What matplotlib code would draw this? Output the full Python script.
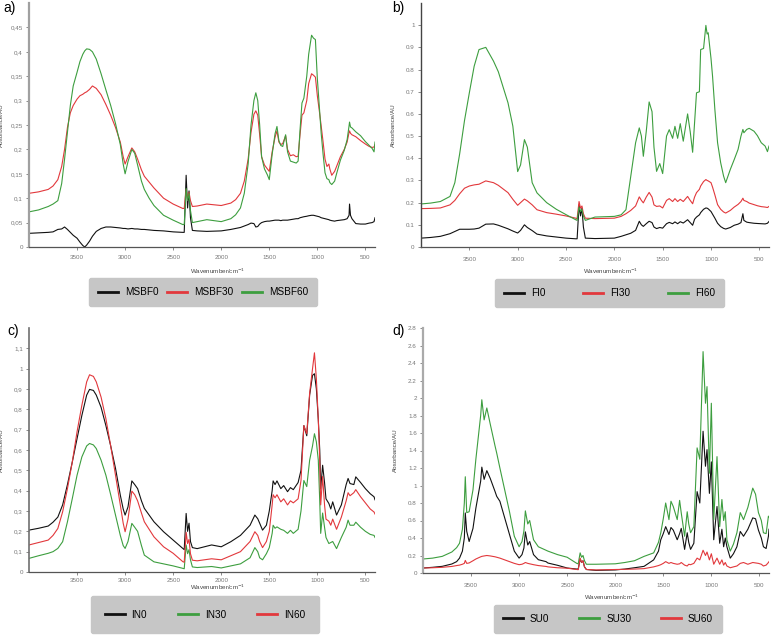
import matplotlib
matplotlib.use("Agg")
import matplotlib.pyplot as plt
import numpy as np

plt.rcParams['font.family'] = ['Liberation Sans', 'DejaVu Sans']

BLACK = '#111111'
RED = '#e2383c'
GREEN = '#3d9e3f'

# ---- panel a) MSBF ----
wn_a = [4000, 3900, 3800, 3750, 3700, 3660, 3630, 3600, 3570, 3540, 3500, 3470, 3440, 3420,
        3400, 3370, 3340, 3300, 3250, 3200, 3150, 3100, 3050, 3020, 3000, 2970, 2930, 2900,
        2870, 2830, 2800, 2750, 2700, 2600, 2500, 2400, 2385, 2365, 2350, 2335, 2320, 2300,
        2250, 2150, 2000, 1900, 1850, 1800, 1760, 1720, 1690, 1660, 1640, 1620, 1600, 1580,
        1550, 1520, 1500, 1470, 1440, 1420, 1400, 1380, 1360, 1330, 1310, 1280, 1250, 1220,
        1200, 1180, 1160, 1140, 1110, 1090, 1060, 1040, 1020, 1000, 980, 960, 940, 920, 900,
        880, 870, 850, 820, 800, 760, 720, 690, 670, 665, 655, 640, 600, 550, 500, 460, 430,
        410, 400]
msbf0 = [0.028, 0.029, 0.030, 0.031, 0.036, 0.037, 0.041, 0.036, 0.030, 0.024, 0.018, 0.010,
         0.003, 0.000, 0.004, 0.012, 0.022, 0.032, 0.038, 0.041, 0.041, 0.040, 0.039, 0.038,
         0.038, 0.037, 0.038, 0.037, 0.037, 0.036, 0.036, 0.035, 0.034, 0.033, 0.031, 0.030,
         0.030, 0.147, 0.080, 0.115, 0.060, 0.034, 0.033, 0.032, 0.033, 0.036, 0.038, 0.040,
         0.043, 0.046, 0.049, 0.048, 0.041, 0.042, 0.047, 0.050, 0.052, 0.053, 0.053, 0.054,
         0.055, 0.055, 0.055, 0.054, 0.055, 0.055, 0.055, 0.056, 0.057, 0.058, 0.058, 0.060,
         0.061, 0.062, 0.063, 0.064, 0.065, 0.065, 0.064, 0.063, 0.062, 0.060, 0.059, 0.058,
         0.057, 0.056, 0.055, 0.054, 0.053, 0.054, 0.055, 0.056, 0.058, 0.065, 0.088, 0.065,
         0.058, 0.048, 0.047, 0.047, 0.049, 0.050, 0.052, 0.060]
msbf30 = [0.110, 0.113, 0.118, 0.125, 0.138, 0.165, 0.200, 0.245, 0.275, 0.290, 0.303, 0.310,
          0.313, 0.316, 0.318, 0.323, 0.330, 0.325, 0.312, 0.292, 0.270, 0.245, 0.215, 0.185,
          0.170, 0.185, 0.203, 0.195, 0.180, 0.158, 0.145, 0.133, 0.121, 0.100, 0.088, 0.079,
          0.079, 0.118, 0.100, 0.112, 0.095, 0.083, 0.084, 0.088, 0.085, 0.090, 0.097, 0.110,
          0.135, 0.180, 0.235, 0.272, 0.279, 0.270, 0.230, 0.185, 0.168, 0.160, 0.155, 0.195,
          0.225, 0.238, 0.215, 0.210, 0.212, 0.228, 0.200, 0.187, 0.189, 0.185, 0.186, 0.230,
          0.270, 0.275, 0.300, 0.335, 0.355, 0.352, 0.348, 0.310, 0.280, 0.248, 0.215, 0.180,
          0.165, 0.170, 0.160, 0.147, 0.155, 0.165, 0.185, 0.200, 0.215, 0.235, 0.238, 0.233,
          0.230, 0.226, 0.218, 0.211, 0.206, 0.204, 0.205, 0.210]
msbf60 = [0.072, 0.076, 0.083, 0.088, 0.095, 0.130, 0.180, 0.235, 0.290, 0.330, 0.358, 0.380,
          0.395, 0.402, 0.406, 0.405, 0.400, 0.385, 0.355, 0.322, 0.290, 0.253, 0.210, 0.170,
          0.150, 0.175, 0.200, 0.192, 0.168, 0.135, 0.118, 0.100, 0.085, 0.065, 0.055, 0.046,
          0.046, 0.120, 0.095, 0.110, 0.075, 0.050, 0.052, 0.056, 0.052, 0.058, 0.066, 0.080,
          0.110, 0.170, 0.250, 0.300, 0.316, 0.300, 0.250, 0.185, 0.160, 0.148, 0.138, 0.190,
          0.232, 0.247, 0.218, 0.208, 0.206, 0.230, 0.195, 0.176, 0.174, 0.172, 0.176, 0.240,
          0.295, 0.305, 0.350, 0.395, 0.434, 0.428, 0.425, 0.345, 0.290, 0.233, 0.190, 0.152,
          0.140, 0.138, 0.132, 0.128, 0.135, 0.150, 0.178, 0.198, 0.220, 0.248, 0.256, 0.246,
          0.244, 0.236, 0.228, 0.216, 0.208, 0.202, 0.195, 0.215]

# ---- panel b) FI ----
wn_b = [4000, 3900, 3800, 3700, 3650, 3600, 3550, 3500, 3450, 3400, 3330, 3250, 3200, 3100,
        3050, 3000, 2970, 2930, 2900, 2850, 2800, 2700, 2600, 2500, 2400, 2385, 2365, 2350,
        2335, 2320, 2300, 2200, 2000, 1930, 1880, 1830, 1780, 1742, 1720, 1700, 1670, 1640,
        1610, 1590, 1563, 1530, 1500, 1460, 1432, 1397, 1373, 1345, 1318, 1287, 1242, 1215,
        1190, 1170, 1150, 1120, 1107, 1077, 1053, 1040, 1029, 1000, 984, 960, 932, 900, 870,
        848, 800, 760, 720, 690, 670, 660, 630, 605, 555, 520, 480, 440, 416, 400]
fi0 = [0.040, 0.043, 0.048, 0.060, 0.070, 0.080, 0.080, 0.080, 0.081, 0.085, 0.103, 0.104,
       0.098, 0.082, 0.072, 0.063, 0.075, 0.100, 0.088, 0.074, 0.058, 0.050, 0.045, 0.040,
       0.037, 0.037, 0.190, 0.140, 0.175, 0.090, 0.040, 0.038, 0.040, 0.048, 0.055, 0.062,
       0.075, 0.116, 0.100, 0.093, 0.105, 0.116, 0.110, 0.090, 0.083, 0.088, 0.085, 0.105,
       0.111, 0.105, 0.113, 0.105, 0.114, 0.108, 0.123, 0.110, 0.098, 0.125, 0.135, 0.145,
       0.155, 0.170, 0.176, 0.175, 0.172, 0.160, 0.148, 0.130, 0.107, 0.092, 0.084, 0.081,
       0.088, 0.098, 0.103, 0.110, 0.150, 0.120, 0.112, 0.110, 0.107, 0.106, 0.105, 0.104,
       0.107, 0.115]
fi30 = [0.173, 0.174, 0.176, 0.190, 0.210, 0.240, 0.265, 0.275, 0.280, 0.283, 0.298, 0.290,
        0.278, 0.245, 0.215, 0.188, 0.200, 0.216, 0.208, 0.190, 0.168, 0.155, 0.148, 0.140,
        0.130, 0.128, 0.205, 0.175, 0.185, 0.150, 0.130, 0.128, 0.130, 0.138, 0.150, 0.165,
        0.185, 0.226, 0.210, 0.199, 0.225, 0.246, 0.225, 0.190, 0.183, 0.185, 0.176, 0.210,
        0.218, 0.205, 0.218, 0.205, 0.215, 0.205, 0.228, 0.210, 0.195, 0.225, 0.245, 0.260,
        0.275, 0.295, 0.304, 0.300, 0.298, 0.290, 0.270, 0.235, 0.191, 0.170, 0.158, 0.153,
        0.165, 0.180, 0.192, 0.205, 0.220, 0.210, 0.205, 0.198, 0.191, 0.186, 0.182, 0.180,
        0.178, 0.183]
fi60 = [0.194, 0.198, 0.205, 0.228, 0.290, 0.420, 0.570, 0.695, 0.815, 0.890, 0.900, 0.838,
        0.790, 0.650, 0.545, 0.340, 0.370, 0.484, 0.450, 0.290, 0.244, 0.200, 0.170, 0.146,
        0.123, 0.120, 0.180, 0.160, 0.170, 0.140, 0.120, 0.135, 0.138, 0.145, 0.168, 0.319,
        0.470, 0.537, 0.500, 0.409, 0.520, 0.654, 0.610, 0.450, 0.341, 0.376, 0.331, 0.500,
        0.529, 0.490, 0.544, 0.490, 0.556, 0.477, 0.600, 0.520, 0.427, 0.560, 0.695, 0.700,
        0.890, 0.895, 0.999, 0.960, 0.966, 0.850, 0.770, 0.620, 0.470, 0.380, 0.320, 0.290,
        0.350, 0.394, 0.440, 0.500, 0.530, 0.515, 0.530, 0.535, 0.522, 0.502, 0.470, 0.455,
        0.430, 0.455]

# ---- panel c) IN ----
wn_c = [4000, 3900, 3800, 3750, 3700, 3650, 3600, 3550, 3500, 3450, 3400, 3370, 3330, 3300,
        3250, 3200, 3150, 3100, 3050, 3020, 3000, 2970, 2930, 2900, 2870, 2830, 2800, 2700,
        2600, 2500, 2400, 2385, 2365, 2350, 2335, 2320, 2300, 2250, 2100, 2000, 1900, 1800,
        1700, 1650, 1620, 1600, 1570, 1530, 1500, 1470, 1460, 1440, 1420, 1380, 1350, 1310,
        1280, 1250, 1200, 1170, 1140, 1110, 1080, 1050, 1030, 1010, 990, 975, 965, 945, 925,
        910, 880, 860, 840, 800, 750, 700, 680, 660, 620, 600, 550, 500, 450, 410, 400]
in0 = [0.206, 0.215, 0.226, 0.245, 0.270, 0.330, 0.430, 0.540, 0.656, 0.770, 0.870, 0.898,
       0.893, 0.870, 0.810, 0.720, 0.620, 0.510, 0.378, 0.310, 0.280, 0.320, 0.448, 0.430,
       0.410, 0.350, 0.313, 0.247, 0.198, 0.157, 0.116, 0.110, 0.288, 0.200, 0.240, 0.150,
       0.120, 0.115, 0.133, 0.124, 0.149, 0.180, 0.230, 0.280, 0.262, 0.240, 0.206, 0.230,
       0.300, 0.400, 0.448, 0.430, 0.448, 0.410, 0.425, 0.395, 0.415, 0.405, 0.440, 0.500,
       0.720, 0.670, 0.870, 0.967, 0.975, 0.900, 0.750, 0.600, 0.410, 0.525, 0.440, 0.360,
       0.337, 0.310, 0.345, 0.280, 0.330, 0.430, 0.460, 0.435, 0.430, 0.468, 0.440, 0.410,
       0.385, 0.370, 0.355]
in30 = [0.067, 0.080, 0.092, 0.100, 0.116, 0.149, 0.247, 0.360, 0.476, 0.566, 0.620, 0.632,
        0.625, 0.607, 0.550, 0.476, 0.380, 0.280, 0.180, 0.130, 0.116, 0.150, 0.239, 0.220,
        0.200, 0.130, 0.083, 0.050, 0.040, 0.030, 0.018, 0.016, 0.133, 0.090, 0.110, 0.060,
        0.025, 0.022, 0.027, 0.020, 0.030, 0.040, 0.070, 0.120, 0.100, 0.070, 0.060, 0.090,
        0.120, 0.190, 0.230, 0.215, 0.222, 0.210, 0.205, 0.190, 0.205, 0.190, 0.210, 0.300,
        0.450, 0.420, 0.550, 0.620, 0.680, 0.640, 0.550, 0.350, 0.190, 0.290, 0.220, 0.170,
        0.140, 0.145, 0.150, 0.115, 0.170, 0.220, 0.255, 0.230, 0.230, 0.245, 0.220, 0.200,
        0.185, 0.180, 0.170]
in60 = [0.133, 0.145, 0.157, 0.180, 0.214, 0.296, 0.410, 0.540, 0.690, 0.820, 0.935, 0.970,
        0.962, 0.935, 0.860, 0.754, 0.620, 0.476, 0.330, 0.240, 0.198, 0.260, 0.398, 0.380,
        0.350, 0.290, 0.247, 0.173, 0.124, 0.092, 0.051, 0.048, 0.195, 0.140, 0.160, 0.090,
        0.058, 0.055, 0.065, 0.060, 0.080, 0.100, 0.150, 0.198, 0.180, 0.150, 0.120, 0.150,
        0.200, 0.330, 0.380, 0.365, 0.380, 0.345, 0.360, 0.330, 0.350, 0.340, 0.360, 0.450,
        0.720, 0.680, 0.880, 1.000, 1.078, 0.950, 0.750, 0.550, 0.330, 0.470, 0.330, 0.260,
        0.250, 0.230, 0.260, 0.210, 0.270, 0.350, 0.390, 0.375, 0.390, 0.405, 0.370, 0.340,
        0.310, 0.295, 0.285]

# ---- panel d) SU ----
wn_d = [4000, 3900, 3800, 3700, 3650, 3620, 3590, 3570, 3560, 3545, 3520, 3480, 3450, 3400,
        3388, 3364, 3336, 3300, 3250, 3233, 3200, 3150, 3100, 3050, 3000, 2970, 2950, 2935,
        2910, 2890, 2850, 2800, 2720, 2700, 2600, 2500, 2400, 2385, 2365, 2350, 2335, 2320,
        2300, 2200, 2000, 1900, 1800, 1700, 1600, 1550, 1526, 1500, 1475, 1441, 1420, 1396,
        1355, 1330, 1313, 1278, 1251, 1235, 1216, 1182, 1148, 1120, 1086, 1061, 1045, 1020,
        1000, 975, 941, 913, 890, 872, 855, 838, 803, 770, 734, 699, 665, 620, 569, 540, 510,
        480, 458, 430, 406, 400]
su0 = [0.057, 0.065, 0.076, 0.103, 0.130, 0.170, 0.250, 0.400, 0.686, 0.476, 0.360, 0.510,
       0.740, 1.050, 1.210, 1.070, 1.170, 1.080, 0.930, 0.876, 0.820, 0.630, 0.440, 0.250,
       0.170, 0.210, 0.286, 0.470, 0.320, 0.360, 0.210, 0.152, 0.130, 0.114, 0.088, 0.057,
       0.045, 0.045, 0.160, 0.120, 0.140, 0.070, 0.040, 0.030, 0.035, 0.045, 0.060, 0.076,
       0.150, 0.250, 0.380, 0.450, 0.530, 0.440, 0.520, 0.490, 0.380, 0.450, 0.510, 0.270,
       0.460, 0.350, 0.270, 0.340, 0.930, 0.800, 1.620, 1.220, 1.410, 0.910, 1.270, 0.380,
       0.760, 0.340, 0.500, 0.300, 0.400, 0.300, 0.170, 0.220, 0.300, 0.475, 0.420, 0.500,
       0.630, 0.620, 0.490, 0.400, 0.300, 0.280, 0.420, 0.500]
su30 = [0.160, 0.170, 0.190, 0.240, 0.290, 0.340, 0.500, 0.800, 1.100, 0.690, 0.700, 0.950,
        1.300, 1.800, 1.980, 1.750, 1.886, 1.700, 1.450, 1.370, 1.200, 0.950, 0.700, 0.420,
        0.300, 0.360, 0.480, 0.710, 0.560, 0.600, 0.380, 0.300, 0.260, 0.250, 0.210, 0.180,
        0.110, 0.105, 0.230, 0.180, 0.200, 0.140, 0.100, 0.100, 0.105, 0.120, 0.140, 0.190,
        0.230, 0.350, 0.460, 0.620, 0.800, 0.610, 0.820, 0.760, 0.610, 0.830, 0.686, 0.420,
        0.700, 0.560, 0.460, 0.530, 1.430, 1.300, 2.530, 1.940, 2.130, 1.140, 1.940, 0.610,
        1.330, 0.530, 0.840, 0.600, 0.700, 0.380, 0.250, 0.330, 0.460, 0.690, 0.610, 0.750,
        0.970, 0.900, 0.690, 0.600, 0.460, 0.450, 0.650, 0.640]
su60 = [0.057, 0.060, 0.065, 0.075, 0.085, 0.090, 0.100, 0.110, 0.144, 0.110, 0.115, 0.140,
        0.160, 0.185, 0.190, 0.195, 0.200, 0.195, 0.185, 0.180, 0.170, 0.150, 0.130, 0.110,
        0.095, 0.100, 0.110, 0.120, 0.110, 0.105, 0.095, 0.085, 0.075, 0.070, 0.060, 0.055,
        0.040, 0.038, 0.170, 0.120, 0.140, 0.070, 0.040, 0.035, 0.040, 0.042, 0.045, 0.050,
        0.070, 0.085, 0.095, 0.110, 0.130, 0.110, 0.120, 0.110, 0.100, 0.105, 0.120, 0.090,
        0.080, 0.100, 0.095, 0.110, 0.170, 0.150, 0.260, 0.200, 0.240, 0.150, 0.220, 0.100,
        0.170, 0.100, 0.150, 0.090, 0.120, 0.080, 0.060, 0.070, 0.080, 0.110, 0.120, 0.100,
        0.120, 0.115, 0.110, 0.100, 0.080, 0.090, 0.120, 0.130]

W, H = 771, 637
fig = plt.figure(figsize=(W / 100, H / 100), dpi=100)


def px_axes(x0, y0, x1, y1):
    return fig.add_axes([x0 / W, 1 - y1 / H, (x1 - x0) / W, (y1 - y0) / H])


def style(ax, ymax, yticks, comma, spine_col, spine_lw, xlab_off, xpad):
    ax.set_xlim(4000, 400)
    ax.set_ylim(0, ymax)
    ax.set_xticks([3500, 3000, 2500, 2000, 1500, 1000, 500])
    ax.set_yticks(yticks)
    labs = ['{:g}'.format(round(t, 2)) for t in yticks]
    if comma:
        labs = [l.replace('.', ',') for l in labs]
    ax.set_yticklabels(labs)
    for s in ['top', 'right']:
        ax.spines[s].set_visible(False)
    ax.spines['left'].set_color(spine_col)
    ax.spines['left'].set_linewidth(spine_lw)
    ax.spines['bottom'].set_color('#555555')
    ax.spines['bottom'].set_linewidth(0.9)
    ax.tick_params(labelsize=4.5, labelcolor='#777777', color='#777777',
                   length=2.5, width=0.6, pad=2)
    ax.tick_params(axis='x', pad=xpad)
    ax.set_xlabel('Wavenumber/cm$^{-1}$', fontsize=4.5, color='#444444')
    ax.xaxis.set_label_coords(0.545, -xlab_off / 244)
    ax.set_ylabel('Absorbance/AU', fontsize=4.5, color='#444444')
    ax.yaxis.set_label_coords(-0.072, 0.5)


def legend_box(ax, x0, y0, x1, y1, pad):
    leg = ax.legend(loc='center', ncol=3, mode='expand',
                    bbox_to_anchor=(x0 / W, 1 - y1 / H, (x1 - x0) / W, (y1 - y0) / H),
                    bbox_transform=fig.transFigure, fontsize=7.2, frameon=True,
                    fancybox=True, facecolor='#c6c6c6', edgecolor='#c6c6c6', framealpha=1,
                    borderpad=pad, handlelength=2.0, handletextpad=0.7, borderaxespad=0)
    for ln in leg.get_lines():
        ln.set_linewidth(2.0)
    return leg


lw = 0.8

ax_a = px_axes(29, 3, 375, 247)
ax_a.plot(wn_a, msbf0, color=BLACK, lw=lw, label='MSBF0')
ax_a.plot(wn_a, msbf30, color=RED, lw=lw, label='MSBF30')
ax_a.plot(wn_a, msbf60, color=GREEN, lw=lw, label='MSBF60')
style(ax_a, 0.5, np.arange(0, 0.451, 0.05), True, '#a0a0a0', 1.6, 20, 3)
legend_box(ax_a, 89, 276, 317, 308, 0.9)

ax_b = px_axes(421, 3, 769, 247)
ax_b.plot(wn_b, fi0, color=BLACK, lw=lw, label='FI0')
ax_b.plot(wn_b, fi30, color=RED, lw=lw, label='FI30')
ax_b.plot(wn_b, fi60, color=GREEN, lw=lw, label='FI60')
style(ax_b, 1.1, np.arange(0, 1.01, 0.1), False, '#444444', 1.0, 20, 5)
legend_box(ax_b, 495, 277, 724, 309, 0.9)

ax_c = px_axes(29, 328, 375, 572)
ax_c.plot(wn_c, in0, color=BLACK, lw=lw, label='IN0')
ax_c.plot(wn_c, in30, color=GREEN, lw=lw, label='IN30')
ax_c.plot(wn_c, in60, color=RED, lw=lw, label='IN60')
style(ax_c, 1.2, np.arange(0, 1.11, 0.1), True, '#707070', 1.2, 11, 1.5)
legend_box(ax_c, 91, 594, 319, 635, 1.35)

ax_d = px_axes(423, 328, 769, 573)
ax_d.plot(wn_d, su0, color=BLACK, lw=lw, label='SU0')
ax_d.plot(wn_d, su30, color=GREEN, lw=lw, label='SU30')
ax_d.plot(wn_d, su60, color=RED, lw=lw, label='SU60')
style(ax_d, 2.8, np.arange(0, 2.81, 0.2), False, '#aaaaaa', 1.6, 20, 4.5)
legend_box(ax_d, 494, 603, 722, 634, 0.9)

for lab, x, y in [('a)', 3, 8), ('b)', 392, 8), ('c)', 7, 331), ('d)', 392, 331)]:
    fig.text(x / W, 1 - y / H, lab, fontsize=10, va='center', ha='left')

fig.savefig('out.png', dpi=100)
